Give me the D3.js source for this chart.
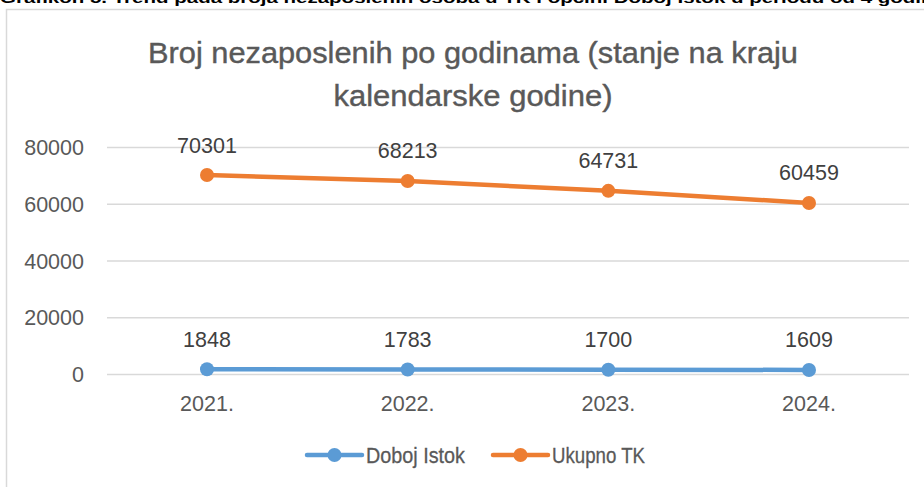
<!DOCTYPE html>
<html>
<head>
<meta charset="utf-8">
<script src="https://cdn.jsdelivr.net/npm/d3@7"></script>
<style>
  body { margin: 0; background: #fff; }
  svg { display: block; }
</style>
</head>
<body>
<svg width="924" height="487"></svg>
<script>
// data
const years = ["2021.", "2022.", "2023.", "2024."]
const dobojIstok = [1848, 1783, 1700, 1609]
const ukupnoTK = [70301, 68213, 64731, 60459]
const yTicks = [0, 20000, 40000, 60000, 80000]
const seriesNames = ["Doboj Istok", "Ukupno TK"]
const seriesColors = ["#5B9BD5", "#ED7D31"]

const svg = d3.select('svg')
const numFont = "'Liberation Sans', Arial, sans-serif"
const grey = "#595959"

// caption above the chart, cut off by the page edge (as in the source)
svg.append('text')
    .attr('x', 0)
    .attr('y', 3)
    .attr('font-family', numFont)
    .attr('font-weight', 'bold')
    .attr('font-size', 15)
    .attr('fill', '#000')
    .attr('textLength', 945)
    .attr('lengthAdjust', 'spacingAndGlyphs')
    .text('Grafikon 5. Trend pada broja nezaposlenih osoba u TK i općini Doboj Istok u periodu od 4 godine')

// chart frame
svg.append('path')
    .attr('d', 'M6.5,487 V9.5 H924')
    .attr('fill', 'none')
    .attr('stroke', '#d9d9d9')
    .attr('stroke-width', 1.5)

const x = d3.scalePoint()
    .domain(years)
    .range([207, 809])

const y = d3.scaleLinear()
    .domain([0, 80000])
    .range([374.5, 147.5])

// gridlines
svg.append('g')
    .selectAll('line')
    .data(yTicks)
    .enter()
    .append('line')
    .attr('x1', 107)
    .attr('x2', 909)
    .attr('y1', d => y(d))
    .attr('y2', d => y(d))
    .attr('stroke', '#d9d9d9')
    .attr('stroke-width', 1.3)

// y tick labels
svg.append('g')
    .selectAll('text')
    .data(yTicks)
    .enter()
    .append('text')
    .attr('x', 84)
    .attr('y', d => y(d) + 7.5)
    .attr('text-anchor', 'end')
    .attr('font-family', numFont)
    .attr('font-size', 21.5)
    .attr('fill', grey)
    .text(d => d)

// x category labels
svg.append('g')
    .selectAll('text')
    .data(years)
    .enter()
    .append('text')
    .attr('x', d => x(d))
    .attr('y', 411)
    .attr('text-anchor', 'middle')
    .attr('font-family', numFont)
    .attr('font-size', 21.5)
    .attr('fill', grey)
    .text(d => d)

// title (condensed face squeezed with textLength)
const titleLines = [
    { text: 'Broj nezaposlenih po godinama (stanje na kraju', y: 63, w: 650 },
    { text: 'kalendarske godine)', y: 106, w: 279 }
]
svg.append('g')
    .selectAll('text')
    .data(titleLines)
    .enter()
    .append('text')
    .attr('x', 473)
    .attr('y', d => d.y)
    .attr('text-anchor', 'middle')
    .attr('font-family', numFont)
    .attr('font-size', 29)
    .attr('fill', grey)
    .attr('stroke', grey)
    .attr('stroke-width', 0.4)
    .attr('textLength', d => d.w)
    .attr('lengthAdjust', 'spacingAndGlyphs')
    .text(d => d.text)

// lines, markers, labels
const line = d3.line()
    .x((d, i) => x(years[i]))
    .y(d => y(d))

;[dobojIstok, ukupnoTK].forEach((series, s) => {
    const g = svg.append('g')
    g.append('path')
        .attr('d', line(series))
        .attr('fill', 'none')
        .attr('stroke', seriesColors[s])
        .attr('stroke-width', 4.5)
        .attr('stroke-linejoin', 'round')
    g.selectAll('circle')
        .data(series)
        .enter()
        .append('circle')
        .attr('cx', (d, i) => x(years[i]))
        .attr('cy', d => y(d))
        .attr('r', 7)
        .attr('fill', seriesColors[s])
    g.selectAll('text')
        .data(series)
        .enter()
        .append('text')
        .attr('x', (d, i) => x(years[i]))
        .attr('y', d => y(d) - 22.5)
        .attr('text-anchor', 'middle')
        .attr('font-family', numFont)
        .attr('font-size', 21.5)
        .attr('fill', '#404040')
        .text(d => d)
})

// legend
const legendX = [307, 493]
const legendW = [99, 93]
const legend = svg.append('g')
    .selectAll('g')
    .data(seriesNames)
    .enter()
    .append('g')
    .attr('transform', (d, i) => `translate(${legendX[i]},455)`)
legend.append('line')
    .attr('x1', 0)
    .attr('x2', 55)
    .attr('stroke', (d, i) => seriesColors[i])
    .attr('stroke-width', 4.5)
    .attr('stroke-linecap', 'round')
legend.append('circle')
    .attr('cx', 27.5)
    .attr('r', 7)
    .attr('fill', (d, i) => seriesColors[i])
legend.append('text')
    .attr('x', 59)
    .attr('y', 8)
    .attr('font-family', numFont)
    .attr('font-size', 22)
    .attr('fill', grey)
    .attr('stroke', grey)
    .attr('stroke-width', 0.3)
    .attr('textLength', (d, i) => legendW[i])
    .attr('lengthAdjust', 'spacingAndGlyphs')
    .text(d => d)
</script>
</body>
</html>
